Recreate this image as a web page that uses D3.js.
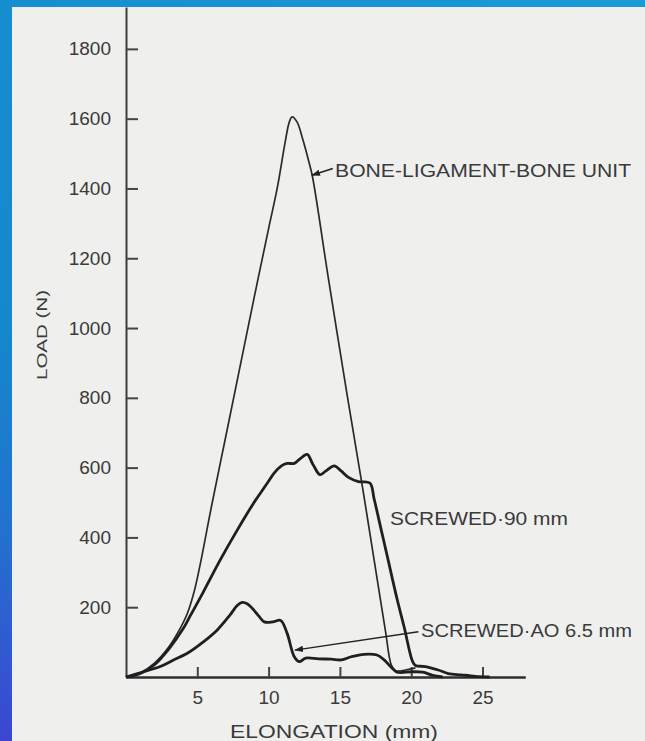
<!DOCTYPE html>
<head>
  <meta charset="utf-8" />
  <script src="https://cdn.jsdelivr.net/npm/d3@7"></script>
  <style>
    body { margin: 0; background: #1589cc; }
    svg text { font-family: "Liberation Sans", Arial, sans-serif; fill: #3a3a3a; }
  </style>
</head>
<body>
  <svg class="chart" width="645" height="741"></svg>
  <script>
    // values: [elongation mm, load N]
    const boneUnit = [
      [0, 0], [1, 12], [2, 40], [3, 86], [3.7, 132], [4.3, 182], [4.8, 248], [5.2, 322],
      [6, 490], [7, 690], [8, 890], [9, 1090], [10, 1285], [10.6, 1400], [11.15, 1530],
      [11.45, 1590], [11.65, 1605], [12.0, 1590], [12.4, 1540], [12.8, 1480], [13.07, 1435],
      [14.2, 1140], [15.5, 810], [16.6, 540], [17.4, 335], [18.2, 130], [18.6, 35],
      [18.9, 18], [19.6, 20], [20.3, 26]
    ];
    const screwed90 = [
      [0, 0], [1, 10], [2, 35], [3, 80], [4, 138], [4.5, 175], [5.4, 242], [6.6, 335],
      [7.8, 421], [8.9, 495], [9.9, 555], [10.4, 585], [10.9, 605], [11.3, 612], [11.8, 612],
      [12.2, 625], [12.7, 638], [13.1, 610], [13.6, 580], [14.0, 590], [14.6, 605], [15.1, 590],
      [15.6, 572], [16.3, 560], [17.1, 556], [17.4, 510], [17.9, 421], [18.3, 350], [19.0, 225],
      [19.5, 144], [20.1, 44], [20.3, 33], [21.0, 30], [21.9, 20], [22.6, 10], [23.5, 6],
      [24.5, 2], [25.5, 0]
    ];
    const screwedAO = [
      [0, 0], [1, 12], [2.4, 30], [3.3, 48], [4.3, 68], [5.4, 100], [6.4, 135], [7.3, 178],
      [7.8, 205], [8.15, 214], [8.5, 210], [8.85, 197], [9.3, 175], [9.7, 158], [10.3, 158],
      [10.85, 162], [11.3, 125], [11.8, 58], [12.15, 44], [12.6, 54], [13.5, 52], [14.4, 51],
      [15.1, 49], [15.8, 58], [16.7, 65], [17.6, 63], [18.1, 49], [18.6, 28], [19.0, 14],
      [20.0, 15], [20.8, 14], [21.5, 5], [22.2, 0]
    ];
    const loadTicks = [200, 400, 600, 800, 1000, 1200, 1400, 1600, 1800];
    const elongTicks = [5, 10, 15, 20, 25];
    const seriesLabels = ["BONE-LIGAMENT-BONE UNIT", "SCREWED·90 mm", "SCREWED·AO 6.5 mm"];

    const svg = d3.select(".chart");

    // scanned page on a blue slide background
    const defs = svg.append("defs");
    const grad = defs.append("linearGradient").attr("id", "bg")
      .attr("x1", 1).attr("y1", 0).attr("x2", 0).attr("y2", 1);
    grad.append("stop").attr("offset", 0).attr("stop-color", "#1b9ad8");
    grad.append("stop").attr("offset", 0.72).attr("stop-color", "#1488cc");
    grad.append("stop").attr("offset", 0.86).attr("stop-color", "#2370cf");
    grad.append("stop").attr("offset", 1).attr("stop-color", "#3c45d2");
    defs.append("marker").attr("id", "arrow").attr("viewBox", "0 0 10 10")
      .attr("refX", 9).attr("refY", 5).attr("markerWidth", 9).attr("markerHeight", 9)
      .attr("markerUnits", "userSpaceOnUse").attr("orient", "auto")
      .append("path").attr("d", "M0,1.5L10,5L0,8.5Z").attr("fill", "#222");

    svg.append("rect").attr("width", 645).attr("height", 741).attr("fill", "url(#bg)");
    svg.append("rect").attr("x", 12).attr("y", 7).attr("width", 633).attr("height", 734).attr("fill", "#efefee");

    const x = d3.scaleLinear().domain([0, 28]).range([126, 525.3]);
    const y = d3.scaleLinear().domain([0, 1920]).range([677, 7]);

    const yAxis = svg.append("g")
      .attr("transform", `translate(${x(0)},0)`)
      .call(d3.axisLeft(y).tickValues(loadTicks).tickFormat(d3.format("d"))
        .tickSizeInner(-12).tickSizeOuter(0).tickPadding(15));
    const xAxis = svg.append("g")
      .attr("transform", `translate(0,${y(0)})`)
      .call(d3.axisBottom(x).tickValues(elongTicks).tickFormat(d3.format("d"))
        .tickSizeInner(-10).tickSizeOuter(0).tickPadding(14));

    [yAxis, xAxis].forEach((g) => {
      g.select(".domain").attr("stroke", "#3c3c3c").attr("stroke-width", 2);
      g.selectAll(".tick line").attr("stroke", "#444").attr("stroke-width", 2);
      g.selectAll(".tick text").attr("font-size", "19px").attr("fill", "#444")
        .style("font-family", "'Liberation Sans', Arial, sans-serif");
    });
    xAxis.select(".domain").attr("stroke", "#2e2e2e").attr("stroke-width", 2.5);

    const line = d3.line()
      .x((d) => x(d[0]))
      .y((d) => y(d[1]))
      .curve(d3.curveCatmullRom.alpha(0.5));

    svg.append("path").datum(boneUnit).attr("d", line)
      .attr("fill", "none").attr("stroke", "#2a2a2a").attr("stroke-width", 1.7);
    svg.append("path").datum(screwed90).attr("d", line)
      .attr("fill", "none").attr("stroke", "#1f1f1f").attr("stroke-width", 2.8).attr("stroke-linejoin", "round");
    svg.append("path").datum(screwedAO).attr("d", line)
      .attr("fill", "none").attr("stroke", "#1f1f1f").attr("stroke-width", 2.8).attr("stroke-linejoin", "round");

    // leaders
    svg.append("line")
      .attr("x1", x(14.5)).attr("y1", y(1457)).attr("x2", x(13.04)).attr("y2", y(1438))
      .attr("stroke", "#222").attr("stroke-width", 1.5).attr("marker-end", "url(#arrow)");
    svg.append("line")
      .attr("x1", x(20.5)).attr("y1", y(130)).attr("x2", x(11.85)).attr("y2", y(77))
      .attr("stroke", "#222").attr("stroke-width", 1.5).attr("marker-end", "url(#arrow)");

    const labels = [
      { text: seriesLabels[0], at: [14.66, 1433], w: 296 },
      { text: seriesLabels[1], at: [18.51, 435], w: 178 },
      { text: seriesLabels[2], at: [20.69, 115], w: 211 }
    ];
    svg.selectAll(".series-label").data(labels).enter().append("text")
      .attr("class", "series-label")
      .attr("x", (d) => x(d.at[0]))
      .attr("y", (d) => y(d.at[1]))
      .attr("font-size", "18px")
      .attr("textLength", (d) => d.w)
      .attr("lengthAdjust", "spacingAndGlyphs")
      .text((d) => d.text);

    svg.append("text")
      .attr("x", 334).attr("y", 738)
      .attr("text-anchor", "middle")
      .attr("font-size", "18px")
      .attr("textLength", 208).attr("lengthAdjust", "spacingAndGlyphs")
      .text("ELONGATION (mm)");

    svg.append("text")
      .attr("transform", "translate(47,335) rotate(-90)")
      .attr("text-anchor", "middle")
      .attr("font-size", "15px")
      .attr("textLength", 90).attr("lengthAdjust", "spacingAndGlyphs")
      .text("LOAD (N)");
  </script>
</body>
